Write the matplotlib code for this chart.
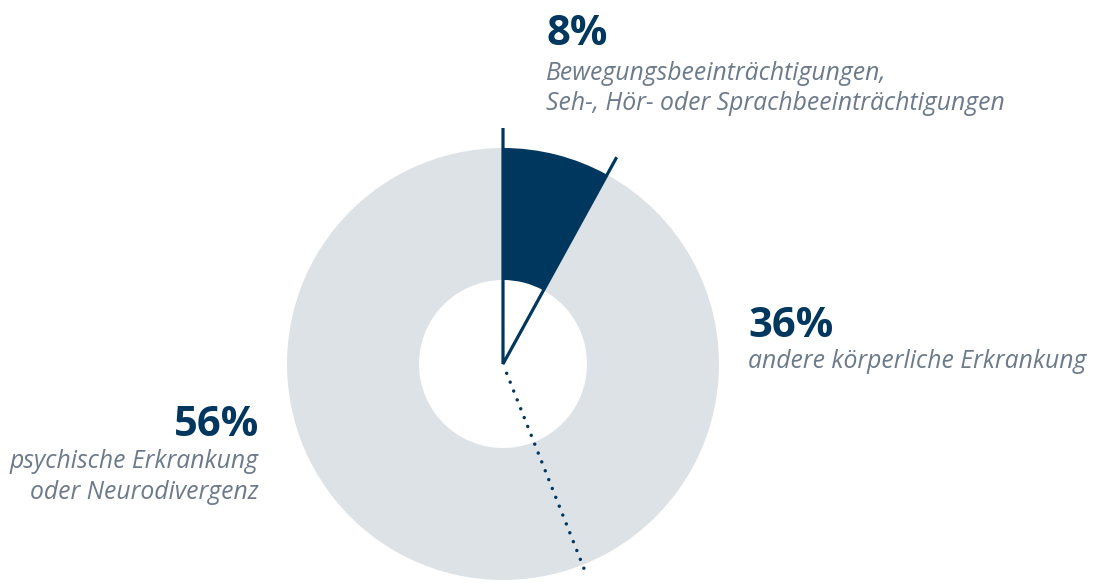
import matplotlib
matplotlib.use("Agg")
import matplotlib.pyplot as plt
import numpy as np

plt.rcParams['lines.scale_dashes'] = False

# Data
shares = [8, 36, 56]
pct_labels = ["8%", "36%", "56%"]
descriptions = [
    "Bewegungsbeeinträchtigungen,\nSeh-, Hör- oder Sprachbeeinträchtigungen",
    "andere körperliche Erkrankung",
    "psychische Erkrankung\noder Neurodivergenz",
]

NAVY = "#00375F"
GRAY = "#DDE2E7"
TEXT_GRAY = "#6C7A8B"

W, H = 1093, 585
fig = plt.figure(figsize=(W / 100, H / 100), dpi=100)
ax = fig.add_axes([0, 0, 1, 1])

cx, cy = 503, H - 364
R_out, R_in = 216, 84

ax.pie(shares, colors=[NAVY, GRAY, GRAY], startangle=90, counterclock=False,
       radius=R_out, center=(cx, cy),
       wedgeprops=dict(width=R_out - R_in, edgecolor='none', linewidth=0))

# boundary angles (degrees, math convention)
cum = np.cumsum([0] + shares) / sum(shares)
ang = 90 - 360 * cum  # clockwise from top

# solid navy outline of the 8% slice, extending beyond the ring
R_line = 236
a0, a1 = np.deg2rad(ang[0]), np.deg2rad(ang[1])
ax.plot([cx + R_line * np.cos(a0), cx, cx + R_line * np.cos(a1)],
        [cy + R_line * np.sin(a0), cy, cy + R_line * np.sin(a1)],
        color=NAVY, lw=2.3, solid_joinstyle='miter', solid_capstyle='butt', zorder=5)

# dotted boundary between 36% and 56%
a2 = np.deg2rad(ang[2])
r = np.array([10, 227])
ax.plot(cx + r * np.cos(a2), cy + r * np.sin(a2), color=NAVY, lw=2.5,
        linestyle=(0, (0.01, 6.85)), dash_capstyle='round', zorder=5)

ax.set_xlim(0, W)
ax.set_ylim(0, H)
ax.set_aspect('auto')
ax.axis('off')

famb = ['Open Sans', 'DejaVu Sans']
fami = ['Open Sans', 'DejaVu Sans']
def y(px):
    return H - px

LS = 17.8
# 8%
ax.text(546, y(45), pct_labels[0], fontsize=30, fontweight='bold', color=NAVY,
        family=famb, ha='left', va='baseline')
l1, l2 = descriptions[0].split("\n")
ax.text(546, y(80), l1, fontsize=LS, style='italic', color=TEXT_GRAY, family=fami, ha='left', va='baseline')
ax.text(546, y(110), l2, fontsize=LS, style='italic', color=TEXT_GRAY, family=fami, ha='left', va='baseline')

# 36%
ax.text(748, y(337), pct_labels[1], fontsize=30, fontweight='bold', color=NAVY,
        family=famb, ha='left', va='baseline')
ax.text(748, y(368), descriptions[1], fontsize=LS, style='italic', color=TEXT_GRAY, family=fami, ha='left', va='baseline')

# 56%
ax.text(259, y(436), pct_labels[2], fontsize=30, fontweight='bold', color=NAVY,
        family=famb, ha='right', va='baseline')
d1, d2 = descriptions[2].split("\n")
ax.text(259, y(468), d1, fontsize=LS, style='italic', color=TEXT_GRAY, family=fami, ha='right', va='baseline')
ax.text(259, y(499), d2, fontsize=LS, style='italic', color=TEXT_GRAY, family=fami, ha='right', va='baseline')

fig.savefig("out.png", dpi=100)
